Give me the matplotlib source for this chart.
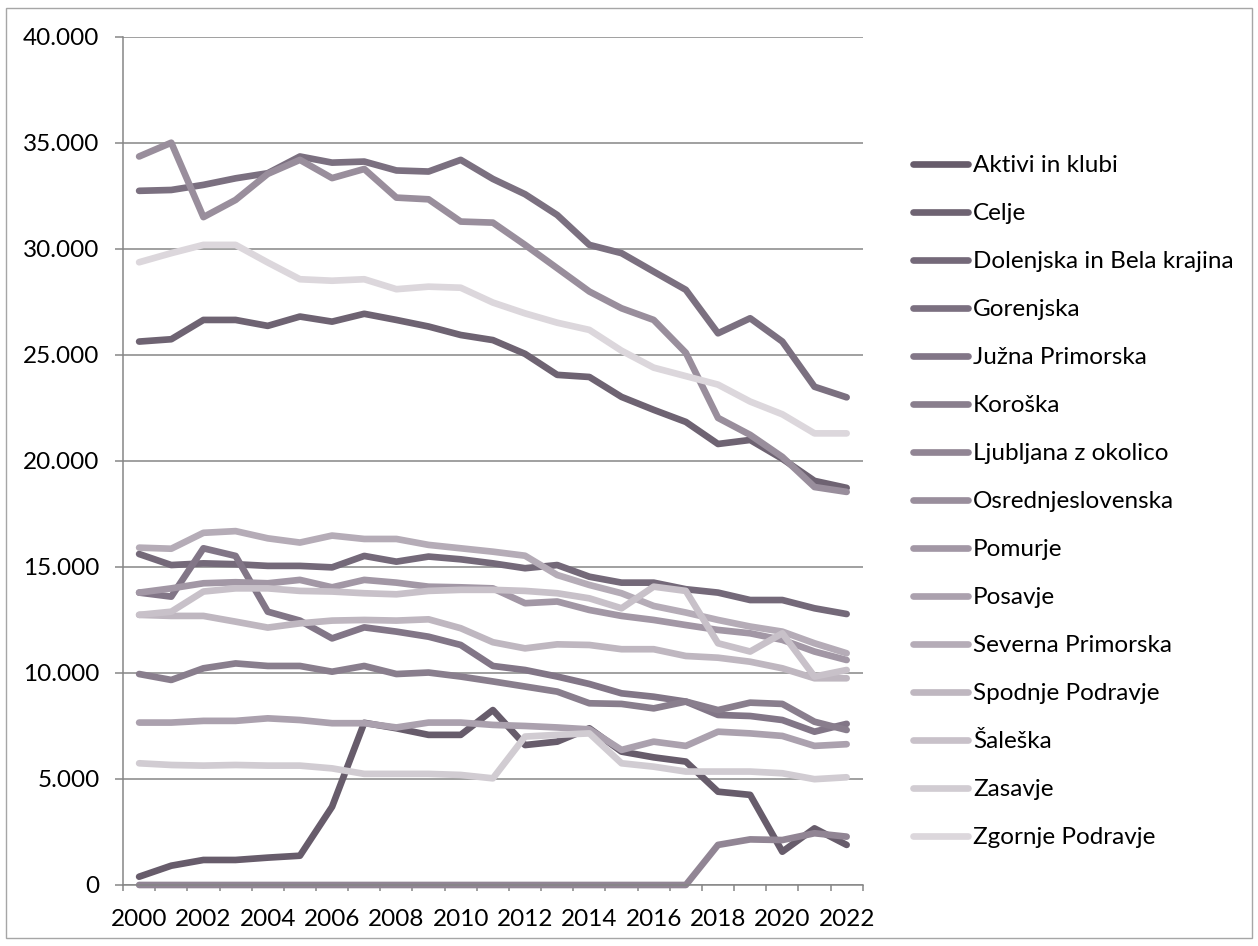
import numpy as np
import matplotlib
matplotlib.use("Agg")
import matplotlib.pyplot as plt
from matplotlib.patches import Rectangle
from matplotlib.ticker import FuncFormatter, MultipleLocator

plt.rcParams["font.family"] = ["Lato", "DejaVu Sans"]

# ------------------------------------------------------------------ DATA
years = list(range(2000, 2023))

aktivi_in_klubi = [390, 910, 1180, 1180, 1290, 1380, 3690, 7650, 7390, 7080, 7080, 8250,
                   6600, 6760, 7390, 6290, 6020, 5820, 4400, 4250, 1570, 2670, 1890]
celje = [25630, 25740, 26650, 26650, 26370, 26810, 26570, 26940, 26650, 26340, 25940, 25700,
         25050, 24060, 23960, 23020, 22410, 21840, 20800, 20990, 20100, 19060, 18730]
dolenjska = [15610, 15090, 15170, 15130, 15050, 15050, 14980, 15520, 15250, 15490, 15360, 15170,
             14940, 15090, 14540, 14260, 14260, 13950, 13790, 13440, 13440, 13050, 12780]
gorenjska = [32740, 32780, 33020, 33330, 33570, 34360, 34070, 34120, 33700, 33650, 34200, 33300,
             32580, 31600, 30190, 29800, 28930, 28070, 26020, 26730, 25630, 23500, 23000]
juzna_primorska = [13790, 13600, 15880, 15520, 12890, 12470, 11630, 12150, 11950, 11710, 11320, 10330,
                   10140, 9830, 9480, 9040, 8880, 8650, 8020, 7970, 7780, 7230, 7600]
koroska = [9950, 9670, 10220, 10450, 10330, 10330, 10060, 10330, 9950, 10020, 9830, 9600,
           9360, 9120, 8570, 8540, 8330, 8650, 8250, 8600, 8540, 7700, 7310]
ljubljana = [0, 0, 0, 0, 0, 0, 0, 0, 0, 0, 0, 0,
             0, 0, 0, 0, 0, 0, 1890, 2150, 2120, 2440, 2280]
osrednjeslovenska = [34360, 35010, 31500, 32310, 33540, 34200, 33340, 33770, 32420, 32340, 31290, 31240,
                     30190, 29090, 27990, 27200, 26650, 25100, 22030, 21230, 20190, 18770, 18540]
pomurje = [13790, 13990, 14230, 14280, 14230, 14390, 14040, 14390, 14260, 14070, 14040, 13990,
           13290, 13370, 12970, 12690, 12500, 12260, 12030, 11870, 11560, 11010, 10610]
posavje = [7660, 7660, 7740, 7740, 7860, 7780, 7630, 7630, 7430, 7660, 7660, 7550,
           7500, 7430, 7340, 6370, 6760, 6560, 7230, 7150, 7030, 6560, 6640]
severna_primorska = [15910, 15860, 16610, 16690, 16350, 16150, 16480, 16320, 16320, 16040, 15880, 15720,
                     15530, 14620, 14150, 13760, 13160, 12850, 12500, 12190, 11950, 11400, 10930]
spodnje_podravje = [12740, 12690, 12690, 12420, 12140, 12340, 12470, 12500, 12470, 12530, 12110, 11450,
                    11160, 11350, 11320, 11120, 11120, 10800, 10720, 10530, 10220, 9750, 9750]
saleska = [12740, 12890, 13840, 13990, 13990, 13870, 13840, 13760, 13710, 13870, 13920, 13920,
           13870, 13760, 13520, 13050, 14070, 13870, 11400, 11010, 11870, 9830, 10140]
zasavje = [5740, 5660, 5630, 5660, 5630, 5630, 5500, 5240, 5240, 5240, 5190, 5030,
           7000, 7080, 7150, 5740, 5580, 5350, 5350, 5350, 5270, 4990, 5080]
zgornje_podravje = [29370, 29800, 30190, 30190, 29360, 28570, 28500, 28570, 28100, 28220, 28170, 27470,
                    26960, 26520, 26180, 25200, 24400, 24000, 23600, 22800, 22200, 21300, 21300]

labels = ["Aktivi in klubi", "Celje", "Dolenjska in Bela krajina", "Gorenjska",
          "Južna Primorska", "Koroška", "Ljubljana z okolico", "Osrednjeslovenska",
          "Pomurje", "Posavje", "Severna Primorska", "Spodnje Podravje",
          "Šaleška", "Zasavje", "Zgornje Podravje"]
series = [aktivi_in_klubi, celje, dolenjska, gorenjska, juzna_primorska, koroska,
          ljubljana, osrednjeslovenska, pomurje, posavje, severna_primorska,
          spodnje_podravje, saleska, zasavje, zgornje_podravje]
colors = ["#675c6b", "#6e6372", "#746979", "#7b7080", "#827687", "#897e8d",
          "#918594", "#998e9c", "#a297a5", "#aba1ae", "#b5acb7", "#bfb7c0",
          "#c8c1c9", "#d1ccd2", "#dcd7dc"]

# ------------------------------------------------------------------ FIGURE
GRID = "#868686"
FS = 17.5
fig = plt.figure(figsize=(12.58, 9.46), dpi=100)
ax = fig.add_axes([0.0978, 0.0645, 0.588, 0.8965])

x = np.arange(len(years))
for vals, lab, col in zip(series, labels, colors):
    ax.plot(x, vals, color=col, lw=4.8, label=lab, solid_capstyle="round",
            solid_joinstyle="round", clip_on=False)

ax.set_xlim(-0.5, len(years) - 0.5)
ax.set_ylim(0, 40000)
ax.yaxis.set_major_locator(MultipleLocator(5000))
ax.yaxis.set_major_formatter(FuncFormatter(
    lambda v, p: "0" if v == 0 else f"{int(v):,}".replace(",", ".")))
ax.grid(axis="y", color=GRID, lw=1.1)
ax.set_axisbelow(True)

ax.set_xticks(x[::2])
ax.set_xticklabels([str(y) for y in years[::2]])
ax.set_xticks(np.arange(-0.5, len(years), 1), minor=True)
ax.tick_params(axis="x", which="major", length=0, pad=17, labelsize=FS)
ax.tick_params(axis="x", which="minor", length=4, width=1.1, color=GRID)
ax.tick_params(axis="y", length=6, width=1.1, color=GRID, pad=11, labelsize=FS)

for s in ["top", "right"]:
    ax.spines[s].set_visible(False)
for s in ["left", "bottom"]:
    ax.spines[s].set_color(GRID)
    ax.spines[s].set_linewidth(1.1)

ax.legend(loc="upper left", bbox_to_anchor=(0.726, 0.836), bbox_transform=fig.transFigure,
          frameon=False, fontsize=FS, handlelength=2.25, handletextpad=0.2,
          labelspacing=1.11, borderpad=0, borderaxespad=0)

fig.patches.append(Rectangle((0.005, 0.008), 0.99, 0.9835, transform=fig.transFigure,
                             fill=False, edgecolor="#a6a6a6", lw=1))

fig.savefig("out.png", dpi=100)
